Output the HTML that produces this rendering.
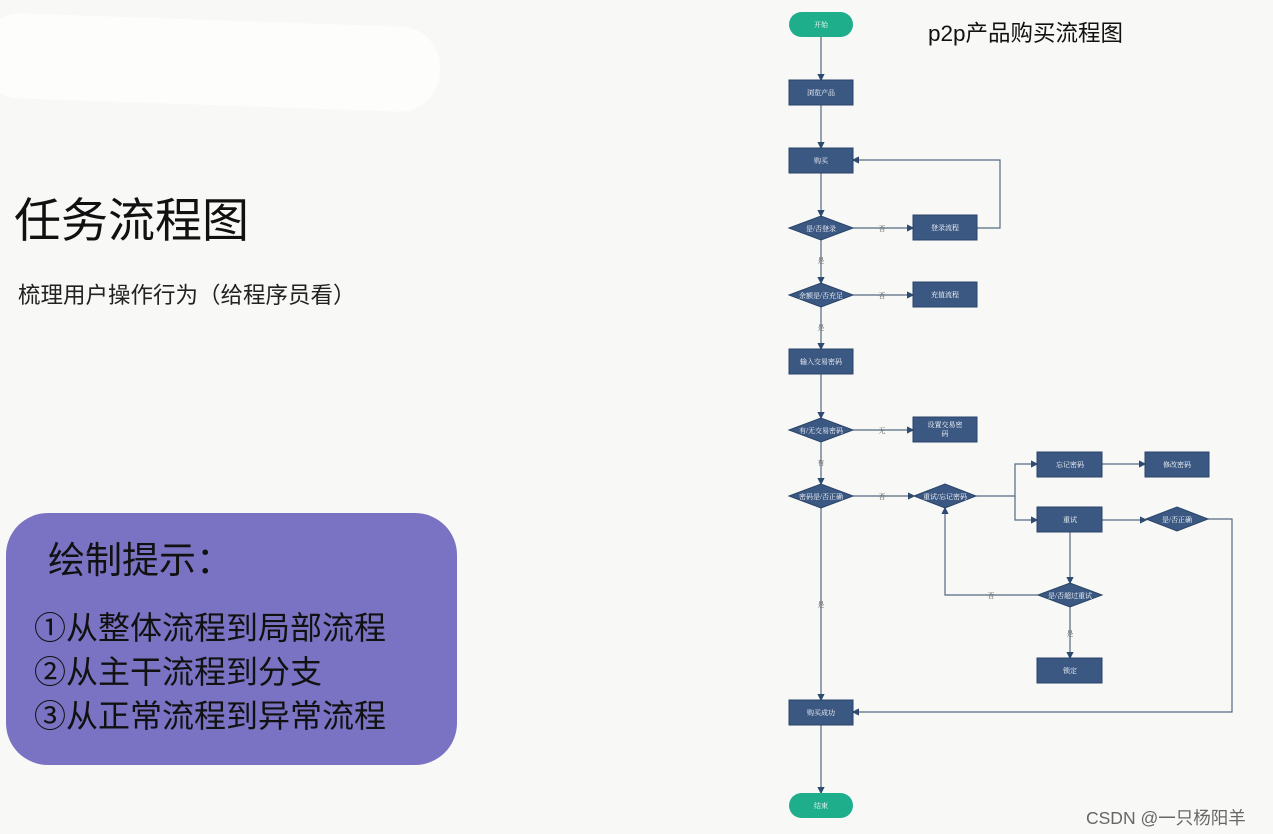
<!DOCTYPE html>
<html><head><meta charset="utf-8"><style>
body{margin:0;width:1273px;height:834px;background:#f8f8f6;position:relative;overflow:hidden;font-family:"Liberation Sans","Noto Sans CJK SC",sans-serif;}
.t{position:absolute;color:#111;white-space:nowrap;}
</style></head><body>
<div style="position:absolute;left:-20px;top:20px;width:460px;height:85px;background:#fdfdfc;border-radius:40px;transform:rotate(2deg);"></div>
<div class="t" style="left:14px;top:182px;font-size:47px;">任务流程图</div>
<div class="t" style="left:18px;top:278px;font-size:22.5px;color:#222;">梳理用户操作行为（给程序员看）</div>
<div style="position:absolute;left:6px;top:513px;width:451px;height:252px;background:#7a72c3;border-radius:42px;"></div>
<div class="t" style="left:48px;top:530px;font-size:37px;">绘制提示：</div>
<div class="t" style="left:34px;top:606px;font-size:32px;line-height:44px;">①从整体流程到局部流程<br>②从主干流程到分支<br>③从正常流程到异常流程</div>
<div class="t" style="left:928px;top:16px;font-size:22.5px;">p2p产品购买流程图</div>
<div class="t" style="left:1086px;top:805px;font-size:17.5px;color:#666;">CSDN @一只杨阳羊</div>
<svg width="1273" height="834" style="position:absolute;left:0;top:0" font-family="Liberation Serif,Noto Serif CJK SC,serif">
<defs><marker id="a" markerWidth="6" markerHeight="6" refX="5" refY="3" orient="auto"><path d="M0,0L6,3L0,6z" fill="#2d4a70"/></marker></defs>
<g stroke="#556a80" stroke-width="1.2" fill="none" marker-end="url(#a)">
<path d="M821,37V80"/><path d="M821,105V148"/><path d="M821,173V216"/>
<path d="M853,228H913"/><path d="M977,228H1000V160H853"/>
<path d="M821,240V283"/><path d="M853,295H913"/>
<path d="M821,307V349"/><path d="M821,374V418"/><path d="M853,430H913"/>
<path d="M821,442V484"/><path d="M853,496H914"/>
<path d="M976,496H1015V464H1037"/><path d="M1015,496V520H1037"/>
<path d="M1102,464H1145"/><path d="M1102,520H1146"/>
<path d="M1208,519H1232V712H853"/>
<path d="M1070,532V583"/><path d="M1038,595H945V508"/>
<path d="M1070,607V658"/><path d="M821,508V700"/><path d="M821,725V793"/>
</g>
<g fill="#3b5883" stroke="#2a4468">
<rect x="789" y="80" width="64" height="25"/><rect x="789" y="148" width="64" height="25"/>
<rect x="913" y="215" width="64" height="25"/><rect x="913" y="282" width="64" height="25"/>
<rect x="789" y="349" width="64" height="25"/><rect x="913" y="417" width="64" height="25"/>
<rect x="1037" y="452" width="65" height="25"/><rect x="1145" y="452" width="64" height="25"/>
<rect x="1037" y="507" width="65" height="25"/><rect x="1037" y="658" width="65" height="25"/>
<rect x="789" y="700" width="64" height="25"/>
<path d="M789,228L821,216L853,228L821,240z"/><path d="M789,295L821,283L853,295L821,307z"/>
<path d="M789,430L821,418L853,430L821,442z"/><path d="M789,496L821,484L853,496L821,508z"/>
<path d="M914,496L945,484L976,496L945,508z"/><path d="M1146,519L1177,507L1208,519L1177,531z"/>
<path d="M1038,595L1070,583L1102,595L1070,607z"/>
</g>
<rect x="789" y="12" width="64" height="25" rx="12.5" fill="#1fae8c"/>
<rect x="789" y="793" width="64" height="25" rx="12.5" fill="#1fae8c"/>
<g fill="#fff" font-size="7" text-anchor="middle">
<text x="821" y="27">开始</text><text x="821" y="95">浏览产品</text><text x="821" y="163">购买</text>
<text x="821" y="231">是/否登录</text><text x="945" y="230">登录流程</text>
<text x="821" y="298">余额是/否充足</text><text x="945" y="297">充值流程</text>
<text x="821" y="364">输入交易密码</text><text x="821" y="433">有/无交易密码</text>
<text x="945" y="427">设置交易密</text><text x="945" y="436">码</text>
<text x="821" y="499">密码是/否正确</text><text x="945" y="499">重试/忘记密码</text>
<text x="1070" y="467">忘记密码</text><text x="1177" y="467">修改密码</text>
<text x="1070" y="522">重试</text><text x="1177" y="522">是/否正确</text>
<text x="1070" y="598">是/否超过重试</text><text x="1070" y="673">锁定</text>
<text x="821" y="715">购买成功</text><text x="821" y="808">结束</text>
</g>
<g fill="#555" font-size="7" text-anchor="middle">
<text x="882" y="231">否</text><text x="821" y="263">是</text><text x="882" y="298">否</text>
<text x="821" y="330">是</text><text x="882" y="433">无</text><text x="821" y="465">有</text>
<text x="882" y="499">否</text><text x="991" y="598">否</text><text x="1070" y="636">是</text>
<text x="821" y="607">是</text>
</g>
</svg>
</body></html>
